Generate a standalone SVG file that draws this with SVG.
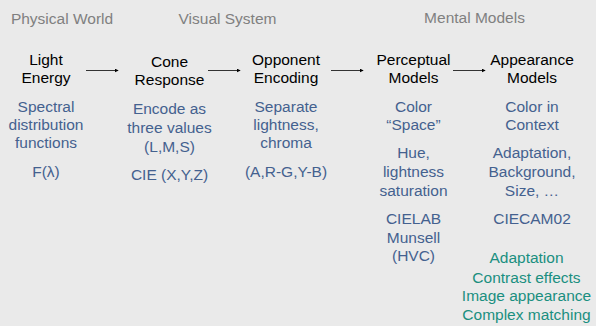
<svg xmlns="http://www.w3.org/2000/svg" width="596" height="326" viewBox="0 0 596 326">
  <style>
    text { font-family: "Liberation Sans", Arial, sans-serif; font-size: 15.5px; text-anchor: middle; }
    .hdr { fill: #808080; }
    .stage { fill: #000000; }
    .desc { fill: #44618f; }
    .teal { fill: #1a8f80; }
    .conn { stroke: #333333; stroke-width: 1; fill: none; marker-end: url(#arrow); }
  </style>
  <defs>
    <marker id="arrow" viewBox="0 0 6 6" refX="5" refY="3" markerWidth="4" markerHeight="4" orient="auto" markerUnits="userSpaceOnUse">
      <path d="M0,0 L6,3 L0,6 z" fill="#000000"/>
    </marker>
  </defs>

  <rect x="0" y="0" width="596" height="326" fill="#eaeaea"/>

  <!-- column headings -->
  <g id="headings">
    <text class="hdr" x="62" y="24">Physical World</text>
    <text class="hdr" x="227.5" y="24">Visual System</text>
    <text class="hdr" x="474.5" y="23">Mental Models</text>
  </g>

  <!-- connectors between stages -->
  <g id="connectors">
    <line class="conn" x1="86" y1="70.5" x2="118" y2="70.5"/>
    <line class="conn" x1="208" y1="70.5" x2="240" y2="70.5"/>
    <line class="conn" x1="331" y1="70.5" x2="363" y2="70.5"/>
    <line class="conn" x1="453" y1="70.5" x2="485" y2="70.5"/>
  </g>

  <g id="light-energy">
    <text class="stage" x="46" y="65">Light</text>
    <text class="stage" x="46" y="83">Energy</text>
    <text class="desc" x="46" y="111.7">Spectral</text>
    <text class="desc" x="46" y="130">distribution</text>
    <text class="desc" x="46" y="148.3">functions</text>
    <text class="desc" x="46" y="177">F(λ)</text>
  </g>

  <g id="cone-response">
    <text class="stage" x="169.5" y="67">Cone</text>
    <text class="stage" x="169.5" y="85">Response</text>
    <text class="desc" x="169.5" y="114">Encode as</text>
    <text class="desc" x="169.5" y="133">three values</text>
    <text class="desc" x="169.5" y="151.5">(L,M,S)</text>
    <text class="desc" x="169.5" y="179.5">CIE (X,Y,Z)</text>
  </g>

  <g id="opponent-encoding">
    <text class="stage" x="286" y="65">Opponent</text>
    <text class="stage" x="286" y="83">Encoding</text>
    <text class="desc" x="286" y="111.7">Separate</text>
    <text class="desc" x="286" y="130">lightness,</text>
    <text class="desc" x="286" y="148.3">chroma</text>
    <text class="desc" x="286" y="177">(A,R-G,Y-B)</text>
  </g>

  <g id="perceptual-models">
    <text class="stage" x="413.5" y="65">Perceptual</text>
    <text class="stage" x="413.5" y="83">Models</text>
    <text class="desc" x="413.5" y="111.7">Color</text>
    <text class="desc" x="413.5" y="129.5">“Space”</text>
    <text class="desc" x="413.5" y="158.3">Hue,</text>
    <text class="desc" x="413.5" y="177.3">lightness</text>
    <text class="desc" x="413.5" y="196">saturation</text>
    <text class="desc" x="413.5" y="224">CIELAB</text>
    <text class="desc" x="413.5" y="242.5">Munsell</text>
    <text class="desc" x="413.5" y="260.7">(HVC)</text>
  </g>

  <g id="appearance-models">
    <text class="stage" x="532" y="65">Appearance</text>
    <text class="stage" x="532" y="83">Models</text>
    <text class="desc" x="532" y="111.7">Color in</text>
    <text class="desc" x="532" y="129.5">Context</text>
    <text class="desc" x="532" y="158.3">Adaptation,</text>
    <text class="desc" x="532" y="177.3">Background,</text>
    <text class="desc" x="532" y="196">Size, …</text>
    <text class="desc" x="532" y="224">CIECAM02</text>
    <text class="teal" x="526.5" y="263.3">Adaptation</text>
    <text class="teal" x="526.5" y="282.5">Contrast effects</text>
    <text class="teal" x="526.5" y="301">Image appearance</text>
    <text class="teal" x="526.5" y="320">Complex matching</text>
  </g>
</svg>
